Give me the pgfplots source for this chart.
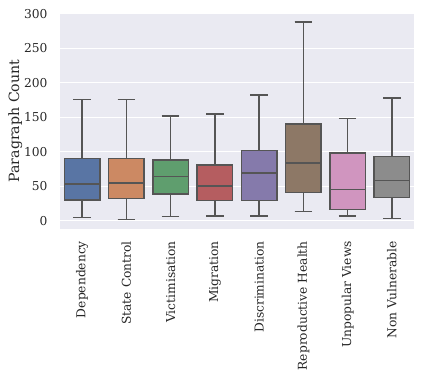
\documentclass[border=0pt]{standalone}
\usepackage{pgfplots}
\pgfplotsset{compat=1.18}
\usepgfplotslibrary{statistics}
\usepackage{fontspec}
\setmainfont{DejaVu Serif}

% seaborn "deep", desaturated as boxplot does it
\definecolor{c1}{HTML}{5975A4}
\definecolor{c2}{HTML}{CC8963}
\definecolor{c3}{HTML}{5F9E6E}
\definecolor{c4}{HTML}{B55D60}
\definecolor{c5}{HTML}{857AAB}
\definecolor{c6}{HTML}{8D7866}
\definecolor{c7}{HTML}{D095BF}
\definecolor{c8}{HTML}{8C8C8C}
\definecolor{edge}{HTML}{555555}
\definecolor{bg}{HTML}{EAEAF2}
\definecolor{txt}{HTML}{262626}

\pgfplotsset{
  bx/.style={fill=#1, draw=edge, line width=1.5bp, solid},
}

\begin{document}
\begin{tikzpicture}
\begin{axis}[
  at={(0,0)}, anchor=south west,
  scale only axis, width=354bp, height=216bp,
  xmin=-0.5, xmax=7.5, ymin=-12, ymax=301,
  axis background/.style={fill=bg},
  axis line style={draw=none},
  major tick length=0pt,
  ymajorgrids, major grid style={white, line width=1bp},
  xtick={0,...,7},
  xticklabels={Dependency, State Control, Victimisation, Migration, Discrimination, Reproductive Health, Unpopular Views, Non Vulnerable},
  x tick label style={rotate=90, anchor=east, inner sep=0pt},
  xticklabel shift=12bp,
  ytick={0,50,...,300},
  yticklabel shift=9bp,
  tick label style={font=\fontsize{12.3}{14}\selectfont, text=txt},
  /pgf/number format/assume math mode=true,
  ylabel={Paragraph Count},
  ylabel style={font=\fontsize{14.2}{16}\selectfont, text=txt},
  % label is rotated: yshift<0 moves it right
  every axis y label/.append style={at={(ticklabel cs:0.5,0)}, yshift=-5bp},
  boxplot/draw direction=y,
  boxplot/box extend=0.8,
  boxplot/whisker extend=0.4,
  boxplot/every box/.style={draw=edge, line width=1.5bp},
  boxplot/every median/.style={draw=edge, line width=1.5bp},
  boxplot/every whisker/.style={draw=edge, line width=1.5bp},
]
\addplot[bx=c1, boxplot prepared={draw position=0, lower whisker=5, lower quartile=30, median=53, upper quartile=90, upper whisker=176}] coordinates {};
\addplot[bx=c2, boxplot prepared={draw position=1, lower whisker=1.5, lower quartile=32, median=55, upper quartile=90, upper whisker=176}] coordinates {};
\addplot[bx=c3, boxplot prepared={draw position=2, lower whisker=6, lower quartile=39, median=64, upper quartile=88, upper whisker=152}] coordinates {};
\addplot[bx=c4, boxplot prepared={draw position=3, lower whisker=7, lower quartile=29, median=50, upper quartile=81, upper whisker=155}] coordinates {};
\addplot[bx=c5, boxplot prepared={draw position=4, lower whisker=7, lower quartile=29, median=69, upper quartile=102, upper whisker=182}] coordinates {};
\addplot[bx=c6, boxplot prepared={draw position=5, lower whisker=13, lower quartile=41, median=84, upper quartile=140, upper whisker=288}] coordinates {};
\addplot[bx=c7, boxplot prepared={draw position=6, lower whisker=7, lower quartile=16, median=45, upper quartile=98, upper whisker=148}] coordinates {};
\addplot[bx=c8, boxplot prepared={draw position=7, lower whisker=3, lower quartile=34, median=58, upper quartile=93, upper whisker=178}] coordinates {};
\end{axis}
\pgfresetboundingbox
\path[use as bounding box] (-60bp,-147bp) rectangle (363bp,229bp);
\end{tikzpicture}
\end{document}
